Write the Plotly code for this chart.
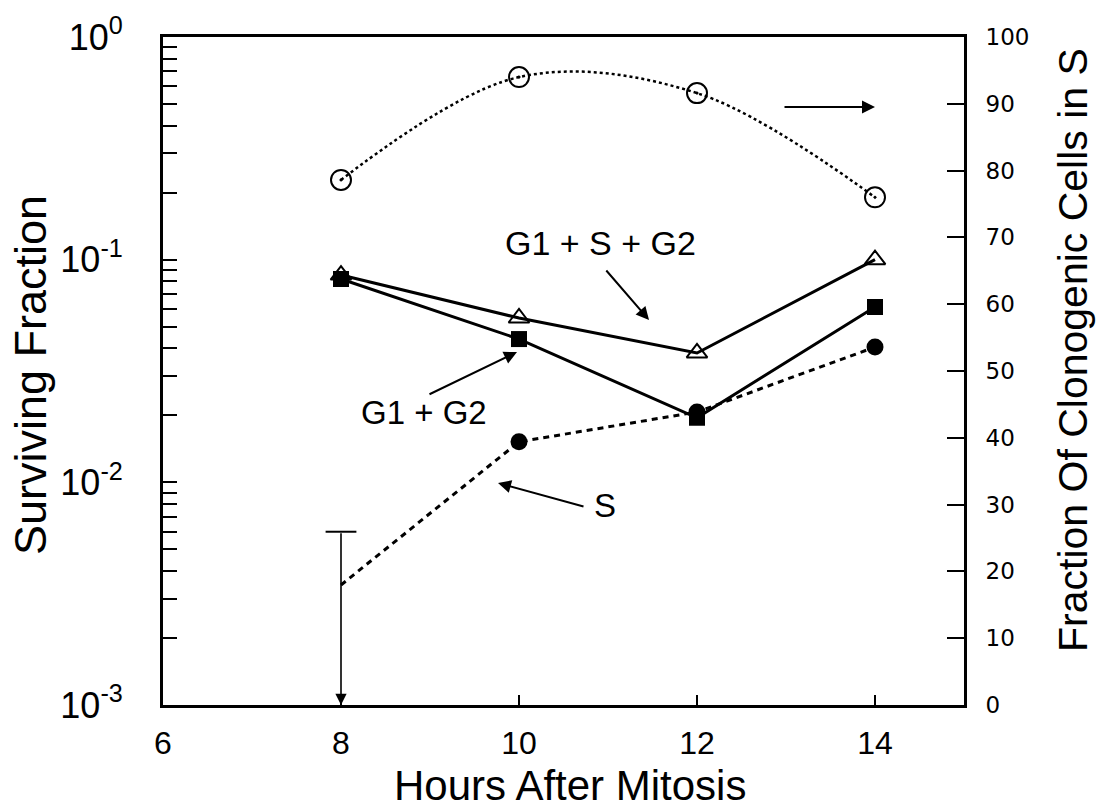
import numpy as np
import plotly.graph_objects as go

hours = [8, 10, 12, 14]
all_phases = [0.0853, 0.0547, 0.0381, 0.100]      # G1 + S + G2 (open triangles)
g1_g2 = [0.0819, 0.0440, 0.0195, 0.0613]          # G1 + G2 (filled squares)
s_phase = [0.00346, 0.0152, 0.0207, 0.0405]       # S (filled circles, dashed)
s_upper_cap = 0.0060                               # upper limit bar at 8 h
frac_in_s = [78.6, 94.0, 91.6, 76.0]               # right axis, open circles

left_tickvals = [1e-3, 1e-2, 1e-1, 1]
left_ticktext = ["10<sup>-3</sup>", "10<sup>-2</sup>", "10<sup>-1</sup>", "10<sup>0</sup>"]
x_ticks = [6, 8, 10, 12, 14]
right_ticks = list(range(0, 101, 10))

FONT = "Liberation Sans, Arial, sans-serif"
WIDEFONT = "DejaVu Sans, Liberation Sans, sans-serif"

fig = go.Figure()

# fraction in S (right axis)
fig.add_trace(go.Scatter(
    x=hours, y=frac_in_s, yaxis="y2", mode="lines+markers",
    line=dict(color="black", width=2.5, dash="dot", shape="spline", smoothing=1.0),
    marker=dict(symbol="circle-open-dot", size=20, color="black", line=dict(width=2)),
    showlegend=False))

# G1 + S + G2
fig.add_trace(go.Scatter(
    x=hours, y=all_phases, mode="lines+markers",
    line=dict(color="black", width=3),
    marker=dict(symbol="triangle-up-open", size=18, color="black", line=dict(width=2)),
    showlegend=False))

# G1 + G2
fig.add_trace(go.Scatter(
    x=hours, y=g1_g2, mode="lines+markers",
    line=dict(color="black", width=3),
    marker=dict(symbol="square", size=16, color="black"),
    showlegend=False))

# S : dashed line through all points, markers only where measured
fig.add_trace(go.Scatter(
    x=hours, y=s_phase, mode="lines",
    line=dict(color="black", width=3, dash="6px,5px"),
    showlegend=False))
fig.add_trace(go.Scatter(
    x=hours[1:], y=s_phase[1:], mode="markers",
    marker=dict(symbol="circle", size=17, color="#000000", opacity=1,
                line=dict(width=0)),
    showlegend=False))

# upper-limit cap at 8 h
fig.add_trace(go.Scatter(
    x=[hours[0]], y=[s_upper_cap], mode="markers",
    marker=dict(symbol="line-ew", size=22, color="black", line=dict(width=2, color="black")),
    showlegend=False))

L, R, T, B = 163, 138, 37, 105
W, H = 1102, 810
pw, ph = W - L - R, H - T - B

annotations = [
    # downward arrow from cap to bottom
    dict(x=hours[0], y=np.log10(left_tickvals[0]), ax=hours[0], ay=np.log10(s_upper_cap),
         xref="x", yref="y", axref="x", ayref="y", text="", showarrow=True,
         arrowhead=2, arrowsize=1.4, arrowwidth=1.6, arrowcolor="black"),
]

def label(px, py, text, size=32, angle=0):
    return dict(x=(px - L) / pw, y=1 - (py - T) / ph, xref="paper", yref="paper",
                text=text, showarrow=False, textangle=angle,
                xanchor="center", yanchor="middle",
                font=dict(family=FONT, size=size, color="black"))

def arrow(x0, y0, x1, y1, width=2):
    return dict(x=(x1 - L) / pw, y=1 - (y1 - T) / ph, xref="paper", yref="paper",
                ax=x0 - x1, ay=y0 - y1, axref="pixel", ayref="pixel",
                text="", showarrow=True, arrowhead=2, arrowsize=1.3,
                arrowwidth=width, arrowcolor="black")

annotations += [
    label(600, 243, "G1 + S + G2", size=34),
    label(424, 412, "G1 + G2", size=33),
    label(605, 505, "S", size=33),
    arrow(605, 269, 649, 320),
    arrow(428, 395, 517, 352),
    arrow(585, 507, 498, 483),
    arrow(783, 107, 875, 107),
    # axis titles
    label(570, 785, "Hours After Mitosis", size=42),
    label(30, 375, "Surviving Fraction", size=45, angle=-90),
    label(1073, 350, "Fraction Of Clonogenic Cells in S", size=41, angle=-90),
]

fig.update_layout(
    width=W, height=H,
    margin=dict(l=L, r=R, t=T, b=B),
    plot_bgcolor="white", paper_bgcolor="white",
    annotations=annotations,
    xaxis=dict(range=[6, 15], tickvals=x_ticks, ticks="inside", ticklen=10, tickwidth=1.5,
               tickcolor="black", showline=True, linewidth=3, linecolor="black", mirror=True,
               showgrid=False, zeroline=False, ticklabelstandoff=8,
               tickfont=dict(family=FONT, size=32, color="black")),
    yaxis=dict(type="log", range=[-3, 0], tickvals=left_tickvals, ticktext=left_ticktext,
               ticks="inside", ticklen=14, tickwidth=2, tickcolor="black",
               minor=dict(ticks="inside", ticklen=14, tickwidth=2, tickcolor="black", dtick="D1"),
               showline=True, linewidth=3, linecolor="black", mirror=True,
               showgrid=False, zeroline=False, ticklabelstandoff=30,
               tickfont=dict(family=FONT, size=36, color="black")),
    yaxis2=dict(overlaying="y", side="right", range=[0, 100], tickvals=right_ticks,
                ticks="inside", ticklen=17, tickwidth=2, tickcolor="black",
                showline=True, linewidth=3, linecolor="black", showgrid=False, zeroline=False,
                ticklabelstandoff=14,
                tickfont=dict(family=WIDEFONT, size=23, color="black")),
)

fig.write_html("out.html")
